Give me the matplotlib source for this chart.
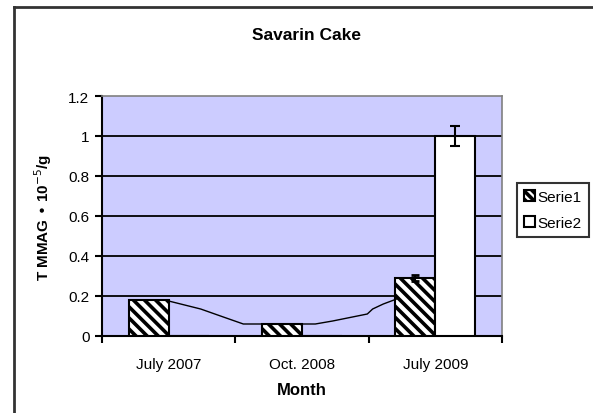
import matplotlib
matplotlib.use("Agg")
import matplotlib.pyplot as plt
import numpy as np
from matplotlib.lines import Line2D
from matplotlib.patches import Patch

plt.rcParams['font.family'] = ['Liberation Sans', 'DejaVu Sans']
plt.rcParams['hatch.linewidth'] = 2.6

# data
months = ["July 2007", "Oct. 2008", "July 2009"]
serie1 = [0.18, 0.06, 0.29]
serie1_err = [0.0, 0.0, 0.015]
serie2 = [0.0, 0.0, 1.0]
serie2_err = [0.0, 0.0, 0.05]
# hand-drawn trend curve between the bars (x in category units)
curve_x = [0.50, 0.74, 0.91, 1.06, 1.60, 1.73, 1.99, 2.03, 2.11, 2.21]
curve_y = [0.175, 0.135, 0.095, 0.06, 0.06, 0.075, 0.11, 0.135, 0.16, 0.185]

fig = plt.figure(figsize=(5.93, 4.14), dpi=100)
ax = fig.add_axes([0.172, 0.186, 0.6745, 0.5797])
ax.set_facecolor("#CCCCFF")

x = np.arange(len(months)) + 0.5
w = 0.3
ax.bar(x - w / 2, serie1, w, color="white", edgecolor="black", hatch="\\\\\\",
       linewidth=1.5, zorder=3, label="Serie1")
ax.bar(x + w / 2, serie2, w, color="white", edgecolor="black",
       linewidth=1.5, zorder=3, label="Serie2")
ax.errorbar([x[2] - w / 2], [serie1[2]], yerr=[serie1_err[2]], fmt="none",
            ecolor="black", elinewidth=1.5, capsize=3, capthick=2, zorder=4)
ax.errorbar([x[2] + w / 2], [serie2[2]], yerr=[serie2_err[2]], fmt="none",
            ecolor="black", elinewidth=1.5, capsize=3.5, capthick=1.5, zorder=4)
ax.plot(curve_x, curve_y, color="black", linewidth=1.0, zorder=4)

ax.set_xlim(0, 3)
ax.set_ylim(0, 1.2)
ax.set_yticks([0, 0.2, 0.4, 0.6, 0.8, 1.0, 1.2])
ax.set_yticklabels(["0", "0.2", "0.4", "0.6", "0.8", "1", "1.2"])
ax.set_xticks([0, 1, 2, 3])
ax.set_xticklabels([])
ax.set_xticks(x, minor=True)
ax.set_xticklabels(months, minor=True)
ax.tick_params(axis="x", which="minor", length=0, pad=15, labelsize=11)
ax.tick_params(axis="x", which="major", length=5, width=1.5, direction="out")
ax.tick_params(axis="y", length=5, width=1.5, direction="out", labelsize=11, pad=4)

for yv in [0.2, 0.4, 0.6, 0.8, 1.0]:
    ax.axhline(yv, color="black", linewidth=1.3, zorder=1)

ax.spines["left"].set_linewidth(1.5)
ax.spines["bottom"].set_linewidth(1.5)
ax.spines["top"].set_color("#808080")
ax.spines["right"].set_color("#808080")
ax.spines["top"].set_linewidth(1.2)
ax.spines["right"].set_linewidth(1.2)

ax.set_xlabel("Month", fontsize=12, fontweight="bold", labelpad=8)
ax.set_ylabel("T MMAG \u2022 10$^{-5}$/g", fontsize=11, fontweight="bold", labelpad=10)
fig.text(0.517, 1 - 35 / 414, "Savarin Cake", ha="center", va="center",
         fontsize=12.5, fontweight="bold")

handles = [Patch(facecolor="white", edgecolor="black", hatch="\\\\\\\\", linewidth=1.5),
           Patch(facecolor="white", edgecolor="black", linewidth=1.5)]
leg = fig.legend(handles, ["Serie1", "Serie2"], loc="upper left",
                 bbox_to_anchor=(517 / 593, 1 - 184 / 414), fontsize=11,
                 frameon=True, fancybox=False, edgecolor="black",
                 handlelength=0.7, handleheight=0.7, handletextpad=0.2,
                 borderpad=0.45, labelspacing=0.8, borderaxespad=0)
leg.get_frame().set_linewidth(1.5)

# outer chart frame
fig.add_artist(Line2D([14 / 593, 1.0], [1 - 8 / 414, 1 - 8 / 414],
                      transform=fig.transFigure, color="#333333", linewidth=2))
fig.add_artist(Line2D([14 / 593, 14 / 593], [0.0, 1 - 8 / 414],
                      transform=fig.transFigure, color="#333333", linewidth=2))

fig.savefig("out.png", dpi=100)
